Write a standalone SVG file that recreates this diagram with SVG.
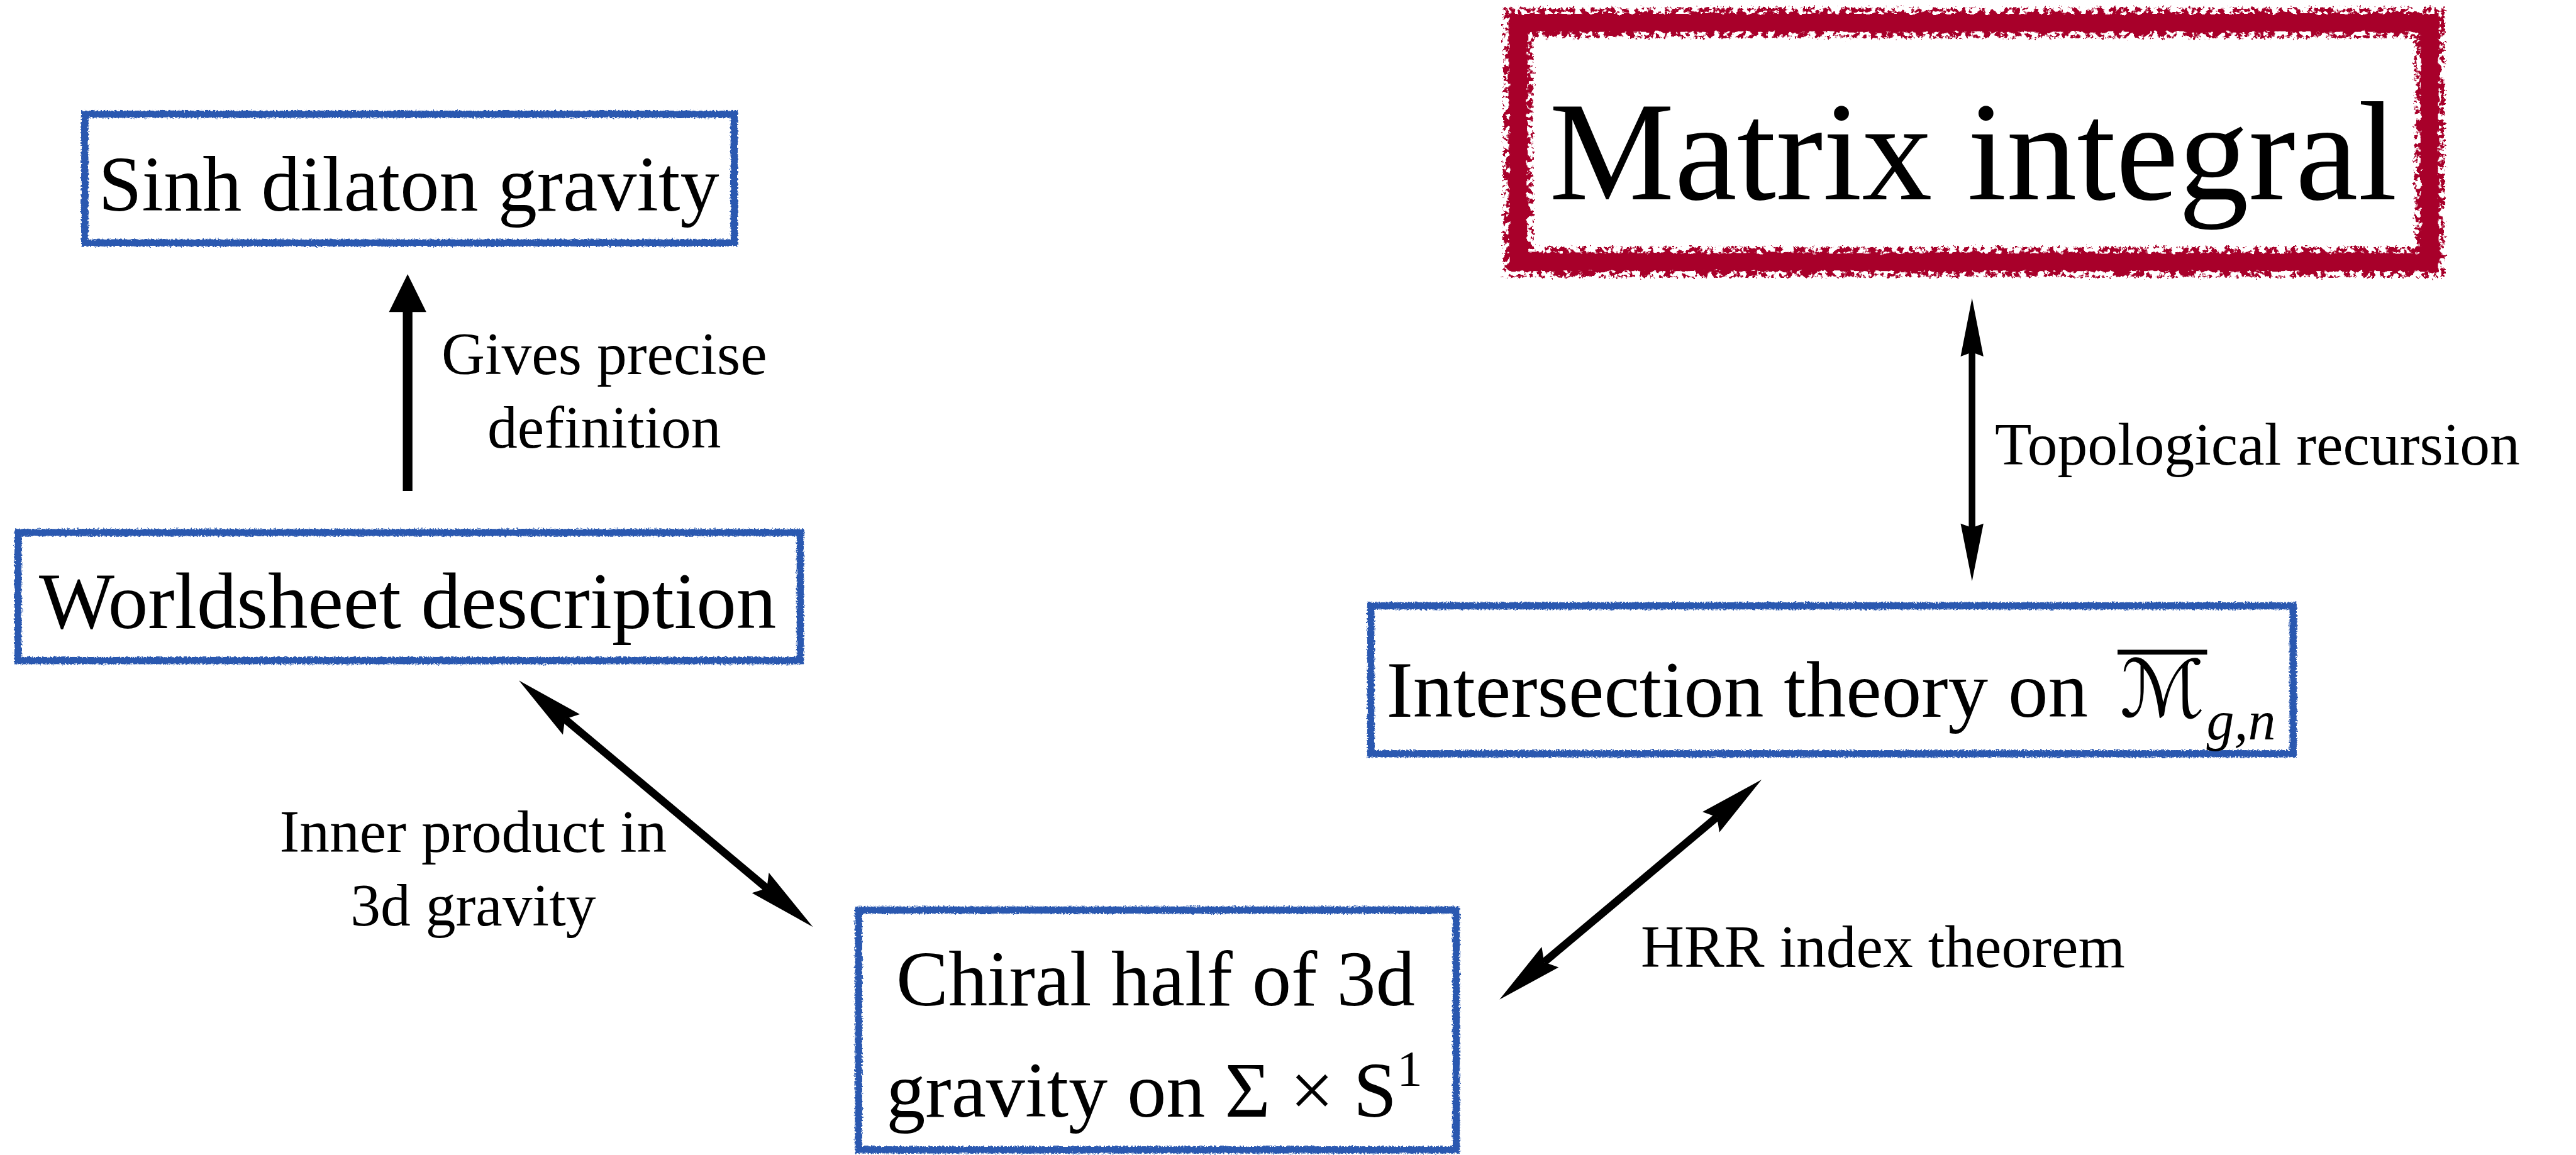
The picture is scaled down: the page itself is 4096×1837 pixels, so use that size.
<svg xmlns="http://www.w3.org/2000/svg" width="4096" height="1837" viewBox="0 0 4096 1837">
<style>
.box{fill:#ffffff;stroke:#2B58B0;stroke-width:12;filter:url(#rough)}
.redcore{fill:none;stroke:#A8062C;stroke-width:30;filter:url(#roughCore)}
.rededge{fill:none;stroke:#A8062C;stroke-width:50;filter:url(#roughRed)}
.t{font-family:"Liberation Serif","Times New Roman",serif;fill:#000}
.lbl{font-family:"Liberation Serif","Times New Roman",serif;fill:#000;font-size:100px}
.ln{stroke:#000;fill:none}
.hd{fill:#000;stroke:none}
</style>
<defs>
<filter id="rough" x="-3%" y="-8%" width="106%" height="116%">
<feTurbulence type="fractalNoise" baseFrequency="0.35" numOctaves="2" seed="3" result="n"/>
<feDisplacementMap in="SourceGraphic" in2="n" scale="7" xChannelSelector="R" yChannelSelector="G"/>
</filter>
<filter id="roughCore" x="-4%" y="-15%" width="108%" height="130%">
<feTurbulence type="fractalNoise" baseFrequency="0.08" numOctaves="2" seed="5" result="n"/>
<feDisplacementMap in="SourceGraphic" in2="n" scale="10" xChannelSelector="R" yChannelSelector="G"/>
</filter>
<filter id="roughRed" x="-4%" y="-15%" width="108%" height="130%">
<feTurbulence type="fractalNoise" baseFrequency="0.25" numOctaves="2" seed="7" result="n"/>
<feDisplacementMap in="SourceGraphic" in2="n" scale="14" xChannelSelector="R" yChannelSelector="G" result="d"/>
<feTurbulence type="fractalNoise" baseFrequency="0.1" numOctaves="3" seed="11" result="sp"/>
<feColorMatrix in="sp" type="matrix" values="0 0 0 0 0  0 0 0 0 0  0 0 0 0 0  0 0 0 -14 7.6" result="mask"/>
<feComposite in="d" in2="mask" operator="in"/>
</filter>
</defs>
<g transform="scale(0.956)">
<rect x="0" y="0" width="4282" height="1920" fill="#ffffff"/>

<g id="connectors">
  <g id="edge-worldsheet-sinh">
    <line class="ln" x1="678" y1="817" x2="678" y2="512" stroke-width="16"/>
    <polygon class="hd" points="678,456 709,519 647,519"/>
  </g>
  <g id="edge-matrix-intersection">
    <line class="ln" x1="3280" y1="585" x2="3280" y2="879" stroke-width="11"/>
    <polygon class="hd" points="3280,496 3299,593 3280,586 3261,593"/>
    <polygon class="hd" points="3280,967 3299,871 3280,878 3261,871"/>
  </g>
  <g id="edge-worldsheet-chiral">
    <line class="ln" x1="939.6" y1="1196.3" x2="1275.4" y2="1477.7" stroke-width="13"/>
    <polygon class="hd" points="863,1132 936.2,1222.2 939.6,1196.3 964.4,1188.4"/>
    <polygon class="hd" points="1352,1542 1250.6,1485.6 1275.4,1477.7 1278.8,1451.8"/>
  </g>
  <g id="edge-chiral-intersection">
    <line class="ln" x1="2568.3" y1="1600.6" x2="2855.7" y2="1359.4" stroke-width="13"/>
    <polygon class="hd" points="2930,1297 2859.8,1384.6 2855.7,1359.4 2831.6,1350.8"/>
    <polygon class="hd" points="2494,1663 2592.4,1609.2 2568.3,1600.6 2564.2,1575.4"/>
  </g>
  <g id="edge-labels">
    <text class="lbl" x="1005" y="622" text-anchor="middle">Gives precise</text>
    <text class="lbl" x="1005" y="745" text-anchor="middle">definition</text>
    <text class="lbl" x="3318" y="773">Topological recursion</text>
    <text class="lbl" x="787" y="1417" text-anchor="middle">Inner product in</text>
    <text class="lbl" x="787" y="1540" text-anchor="middle">3d gravity</text>
    <text class="lbl" x="2729" y="1609">HRR index theorem</text>
  </g>
</g>

<g id="node-sinh">
  <rect class="box" x="141" y="190" width="1080" height="214"/>
  <text class="t" x="680" y="350" font-size="130" text-anchor="middle">Sinh dilaton gravity</text>
</g>

<g id="node-worldsheet">
  <rect class="box" x="30" y="886" width="1301" height="213"/>
  <text class="t" x="678" y="1045" font-size="133" text-anchor="middle">Worldsheet description</text>
</g>

<g id="node-matrix">
  <rect x="2525" y="38" width="1516" height="398" fill="#ffffff"/>
  <rect class="rededge" x="2525" y="38" width="1516" height="398"/>
  <rect class="redcore" x="2525" y="38" width="1516" height="398"/>
  <text class="t" x="3282" y="332" font-size="234" text-anchor="middle">Matrix integral</text>
</g>

<g id="node-intersection">
  <rect class="box" x="2280" y="1008" width="1534" height="246"/>
  <text class="t" x="2306" y="1193" font-size="133">Intersection theory on</text>
  <text x="3526" y="1193" font-size="132" font-style="italic" style="font-family:'DejaVu Serif','DejaVu Sans',serif">ℳ</text>
  <rect x="3522" y="1081" width="149" height="8" fill="#000"/>
  <text class="t" x="3670" y="1230" font-size="92" font-style="italic">g,n</text>
</g>

<g id="node-chiral">
  <rect class="box" x="1428" y="1514" width="994" height="399"/>
  <text class="t" x="1922" y="1673" font-size="130" text-anchor="middle">Chiral half of 3d</text>
  <text class="t" x="1920" y="1858" font-size="130" text-anchor="middle">gravity on Σ × S<tspan font-size="85" dy="-52">1</tspan></text>
</g>
</g>
</svg>
